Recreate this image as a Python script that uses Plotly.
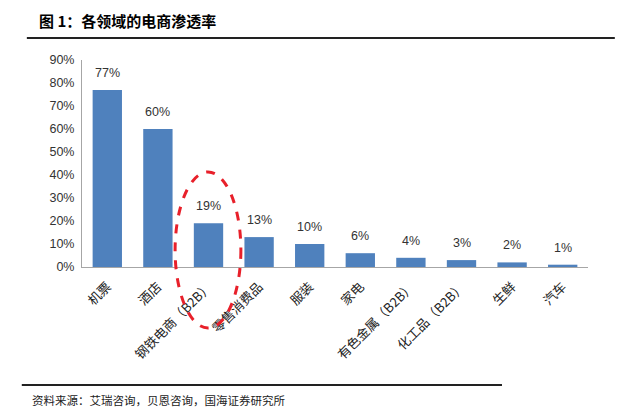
import plotly.graph_objects as go

categories = ["机票", "酒店", "钢铁电商（B2B）", "零售消费品", "服装", "家电",
              "有色金属（B2B）", "化工品（B2B）", "生鲜", "汽车"]
values = [0.77, 0.60, 0.19, 0.13, 0.10, 0.06, 0.04, 0.03, 0.02, 0.01]
labels = ["77%", "60%", "19%", "13%", "10%", "6%", "4%", "3%", "2%", "1%"]
tick_vals = [0, 0.1, 0.2, 0.3, 0.4, 0.5, 0.6, 0.7, 0.8, 0.9]
tick_text = ["0%", "10%", "20%", "30%", "40%", "50%", "60%", "70%", "80%", "90%"]

title_text = "图 1：各领域的电商渗透率"
source_text = "资料来源：艾瑞咨询，贝恩咨询，国海证券研究所"

CJK = "Noto Sans CJK SC"
LAT = "Liberation Sans, Arial, sans-serif"

fig = go.Figure()
fig.add_trace(go.Bar(
    x=categories, y=values,
    marker=dict(color="#4F81BD", line=dict(width=0)),
    width=0.58, hoverinfo="skip",
))

annotations = [
    dict(x=c, y=v, text=t, xref="x", yref="y", showarrow=False,
         xanchor="center", yanchor="bottom", yshift=8,
         font=dict(family=LAT, size=12.5, color="#333333"))
    for c, v, t in zip(categories, values, labels)
]
annotations += [
    dict(text="<b>" + title_text + "</b>", xref="paper", yref="paper",
         x=-0.089, y=1.193, xanchor="left", yanchor="middle", showarrow=False,
         font=dict(family=CJK, size=15, color="#000000")),
    dict(text=source_text, xref="paper", yref="paper",
         x=-0.103, y=-0.643, xanchor="left", yanchor="middle", showarrow=False,
         font=dict(family=CJK, size=11.5, color="#222222")),
]

fig.update_layout(
    width=641, height=415,
    margin=dict(l=82, r=53, t=60, b=148, pad=0),
    paper_bgcolor="white", plot_bgcolor="white",
    showlegend=False,
    xaxis=dict(
        showline=True, linecolor="#a6a6a6", linewidth=1,
        tickangle=-45, tickfont=dict(family=CJK, size=13, color="#222222"),
        ticks="", ticklabelstandoff=6, showgrid=False, zeroline=False,
    ),
    yaxis=dict(
        range=[0, 0.9], tickvals=tick_vals, ticktext=tick_text,
        showline=True, linecolor="#a6a6a6", linewidth=1,
        tickfont=dict(family=LAT, size=12.5, color="#333333"),
        ticks="", ticklabelstandoff=4,
        showgrid=False, zeroline=False,
    ),
    annotations=annotations,
    shapes=[
        dict(type="line", xref="paper", yref="paper", x0=-0.109, x1=1.053,
             y0=1.106, y1=1.106, line=dict(color="#222222", width=2)),
        dict(type="line", xref="paper", yref="paper", x0=-0.119, x1=0.830,
             y0=-0.570, y1=-0.570, line=dict(color="#222222", width=2)),
        dict(type="circle", xref="paper", yref="paper", x0=0.184, x1=0.314,
             y0=-0.295, y1=0.459, line=dict(color="#e8202a", width=3, dash="dash")),
    ],
)

fig.write_html("out.html")
